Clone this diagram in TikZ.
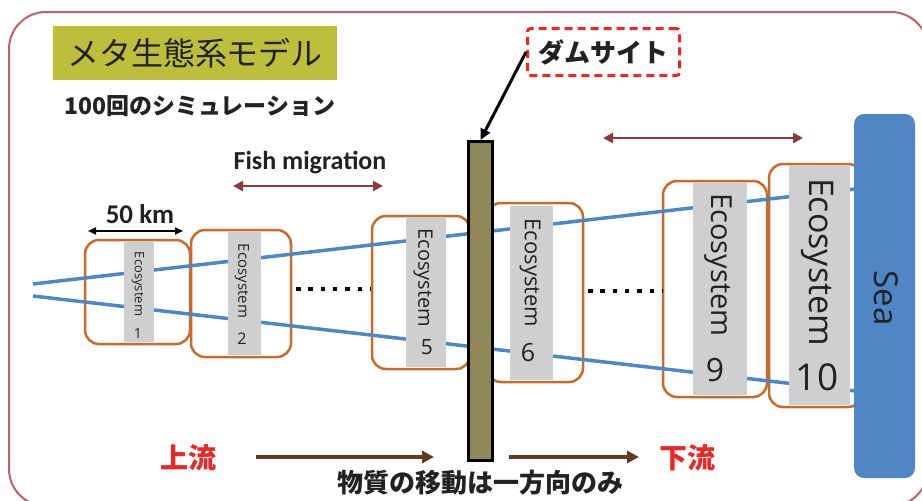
\documentclass[tikz,border=0pt]{standalone}
\usepackage{fontspec}
\setmainfont{Open Sans}
\newfontfamily\jp{Noto Sans CJK JP}
\newfontfamily\carlitofont{Carlito}
\usetikzlibrary{arrows.meta}
\definecolor{framecol}{RGB}{192,96,104}
\definecolor{olivec}{RGB}{189,190,58}
\definecolor{orangec}{RGB}{200,106,44}
\definecolor{bluel}{RGB}{76,135,200}
\definecolor{stripc}{RGB}{206,207,209}
\definecolor{seac}{RGB}{79,134,198}
\definecolor{damc}{RGB}{143,134,90}
\definecolor{redc}{RGB}{238,38,38}
\definecolor{migc}{RGB}{140,58,58}
\definecolor{brownc}{RGB}{95,58,30}
\definecolor{txt}{RGB}{34,34,34}
\newcommand{\fs}[1]{\fontsize{#1}{#1}\selectfont}
\begin{document}
\begin{tikzpicture}[x=1pt,y=-1pt,
  ecobox/.style={draw=orangec, line width=2.5pt, rounded corners=14pt, inner sep=0pt},
  strip/.style={fill=stripc, inner sep=0pt},
  ecotext/.style={text=txt, inner sep=0pt, rotate=-90},
  ecanum/.style={text=txt, inner sep=0pt},
  riverline/.style={bluel, line width=3.5pt},
  dotline/.style={black, line width=4.5pt, dash pattern=on 4.5pt off 7.8pt},
  migarrow/.style={migc, line width=2.5pt, {Triangle[length=10pt,width=10pt]}-{Triangle[length=10pt,width=10pt]}},
  flowarrow/.style={brownc, line width=4pt, -{Triangle[length=12pt,width=12pt]}},
  plain/.style={inner sep=0pt}
]
\useasboundingbox (0,0) rectangle (922,501);
\begin{scope}
\clip (0,0) rectangle (922,501);
\draw[framecol, line width=2pt, rounded corners=37pt] (9,12) rectangle (928,506);
\end{scope}

% title
\node[fill=olivec, minimum width=284pt, minimum height=54pt, inner sep=0pt, text=txt] (title) at (195,53) {\jp\fs{32}メタ生態系モデル};
\node[plain, anchor=west, text=txt] (sim) at (64,106) {\jp\bfseries\fs{23}100回のシミュレーション};

% ecosystem boxes
\node[ecobox, minimum width=105pt, minimum height=104pt] (b1) at (137.5,292) {};
\node[ecobox, minimum width=100pt, minimum height=127pt] (b2) at (241,293.5) {};
\node[ecobox, minimum width=98pt, minimum height=153pt] (b5) at (421,292.5) {};
\node[ecobox, minimum width=96pt, minimum height=179pt] (b6) at (535,292.5) {};
\node[ecobox, minimum width=104pt, minimum height=216pt] (b9) at (715,289) {};
\node[ecobox, minimum width=93pt, minimum height=243pt] (b10) at (815.5,285.5) {};

% river
\coordinate (u0) at (33,284);
\coordinate (u1) at (860,188.5);
\coordinate (l0) at (33,296);
\coordinate (l1) at (860,391.5);
\draw[riverline] (u0) -- (u1);
\draw[riverline] (l0) -- (l1);

% strips
\node[strip, minimum width=30pt, minimum height=100pt] (s1) at (139,292) {};
\node[strip, minimum width=33pt, minimum height=123pt] (s2) at (244.5,293.5) {};
\node[strip, minimum width=40pt, minimum height=149pt] (s5) at (426,292.5) {};
\node[strip, minimum width=43pt, minimum height=174pt] (s6) at (531.5,293) {};
\node[strip, minimum width=54pt, minimum height=212pt] (s9) at (720,289) {};
\node[strip, minimum width=61pt, minimum height=239pt] (s10) at (819.5,285.5) {};

\node[ecotext] (t1) at (138,284) {\fs{13}Ecosystem};
\node[ecotext] (t2) at (242,281) {\fs{15}Ecosystem};
\node[ecotext] (t5) at (423,278) {\fs{20}Ecosystem};
\node[ecotext] (t6) at (530,273) {\fs{22}Ecosystem};
\node[ecotext] (t9) at (718,265) {\fs{29}Ecosystem};
\node[ecotext] (t10) at (818,262) {\fs{34}Ecosystem};
\node[ecanum] (n1) at (138,333) {\fs{14}1};
\node[ecanum] (n2) at (242,339) {\fs{16}2};
\node[ecanum] (n5) at (427,347) {\fs{21}5};
\node[ecanum] (n6) at (528,353) {\fs{25}6};
\node[ecanum] (n9) at (715,370) {\fs{32}9};
\node[ecanum] (n10) at (817,377) {\fs{37}10};

% dotted gaps
\coordinate (da1) at (296,289);
\coordinate (da2) at (370,289);
\coordinate (db1) at (588,291);
\coordinate (db2) at (662,291);
\draw[dotline] (da1) -- (da2);
\draw[dotline] (db1) -- (db2);

% sea
\node[fill=seac, rounded corners=10pt, minimum width=61pt, minimum height=364pt, inner sep=0pt] (sea) at (884.5,296) {};
\node[ecotext] (seat) at (886,298) {\fs{33}Sea};

% dam
\node[fill=damc, draw=black, line width=3pt, minimum width=24pt, minimum height=319pt, inner sep=0pt] (dam) at (480.5,301) {};

% dam site label
\node[draw=redc, line width=3pt, dash pattern=on 8pt off 5pt, fill=white, rounded corners=3pt, minimum width=152pt, minimum height=47pt, inner sep=0pt, text=txt] (ds) at (603.5,52) {\jp\bfseries\fs{26}ダムサイト};
\draw[black, line width=3pt, -{Triangle[length=11pt,width=10pt]}] (ds.west) -- (dam.north);

% fish migration
\node[plain, text=txt] (fm) at (310,163) {\carlitofont\bfseries\fs{26}Fish migration};
\coordinate (fa1) at (233,186);
\coordinate (fa2) at (383,186);
\draw[migarrow] (fa1) -- (fa2);
\coordinate (fb1) at (603,138);
\coordinate (fb2) at (803,138);
\draw[migarrow] (fb1) -- (fb2);

% 50 km
\node[plain, text=txt] (km) at (140,214) {\carlitofont\bfseries\fs{27}50 km};
\coordinate (ka1) at (88,231);
\coordinate (ka2) at (183,231);
\draw[black, line width=1.6pt, {Triangle[length=8pt,width=7pt]}-{Triangle[length=8pt,width=7pt]}] (ka1) -- (ka2);

% bottom
\node[plain, text=redc] (up) at (188,458) {\jp\bfseries\fs{28}上流};
\node[plain, text=redc] (down) at (687,458) {\jp\bfseries\fs{28}下流};
\coordinate (fl1) at (256,457);
\coordinate (fl2) at (434,457);
\coordinate (fl3) at (509,457);
\coordinate (fl4) at (639,457);
\draw[flowarrow] (fl1) -- (fl2);
\draw[flowarrow] (fl3) -- (fl4);
\node[plain, text=txt] (mat) at (480,483) {\jp\bfseries\fs{26}物質の移動は一方向のみ};
\end{tikzpicture}
\end{document}
